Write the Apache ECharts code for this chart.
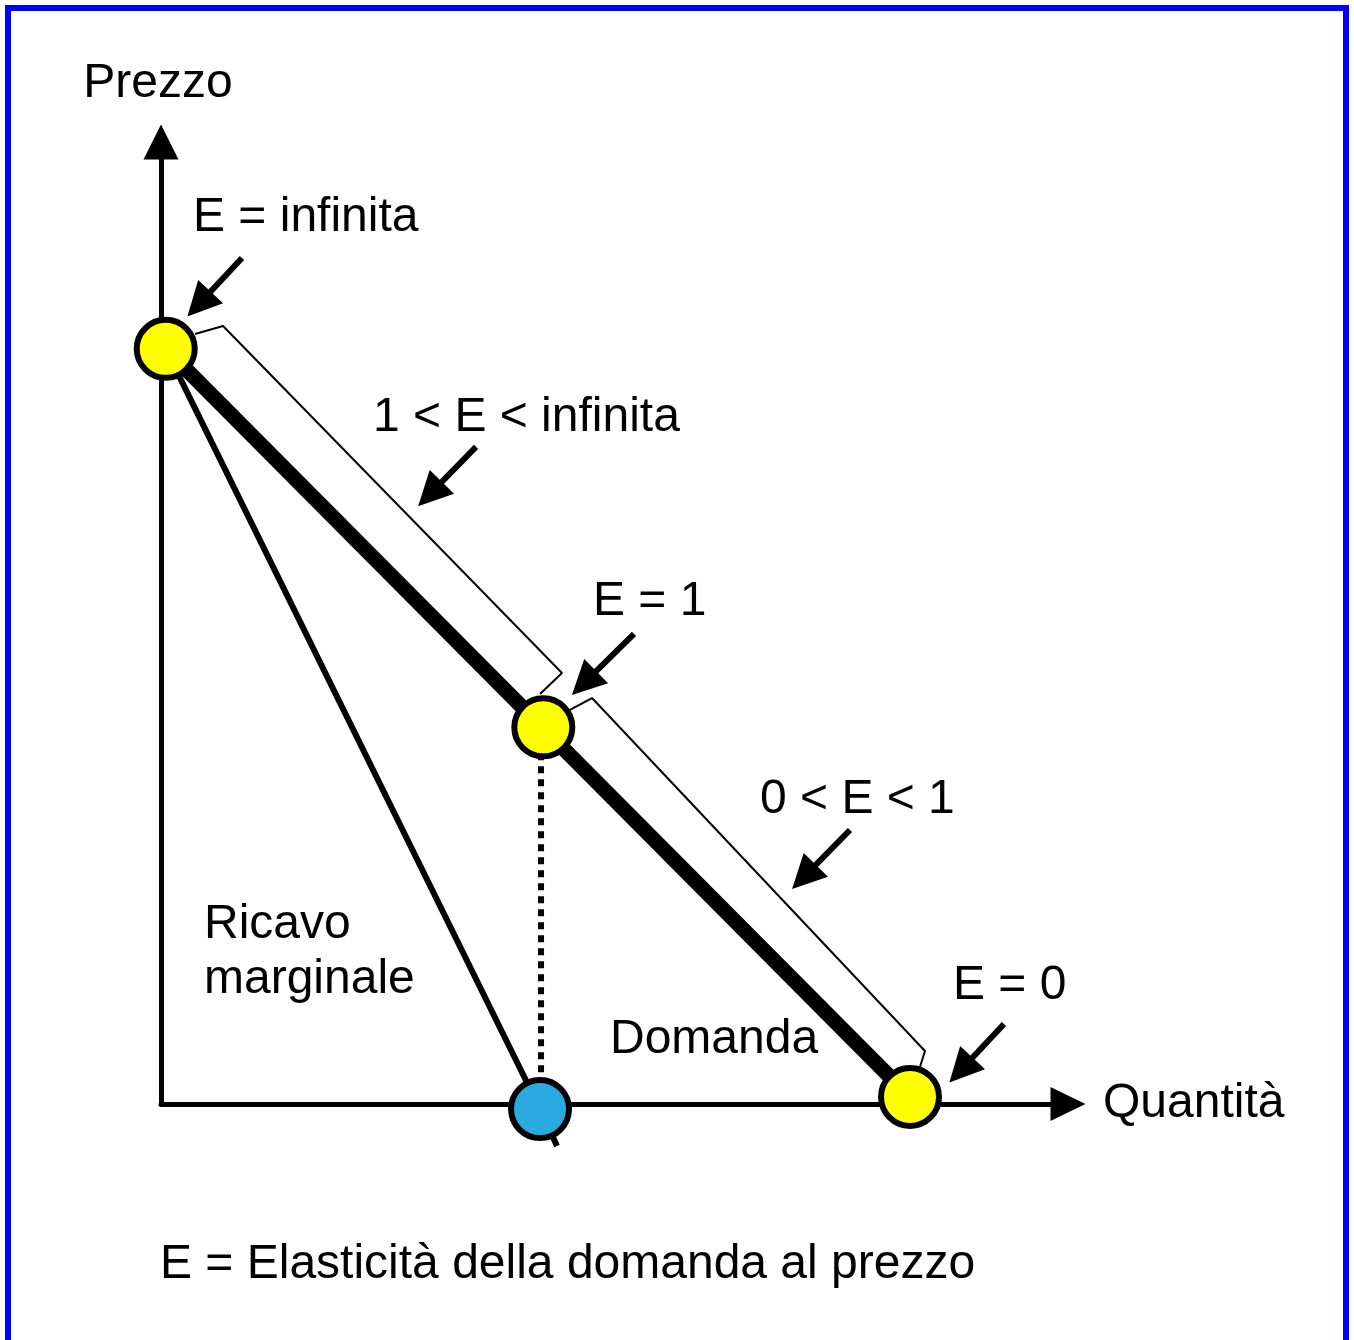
<!DOCTYPE html>
<html>
<head>
<meta charset="utf-8">
<title>Elasticità della domanda</title>
<script src="https://cdn.jsdelivr.net/npm/echarts@6/dist/echarts.min.js"></script>
<style>
  html, body { margin: 0; padding: 0; background: #fff; }
  #chart { width: 1354px; height: 1340px; }
</style>
</head>
<body>
<div id="chart"></div>
<script>
// punti (unità arbitrarie, assi 0-100)
const demandLine = [[0.52, 78.5], [82.58, 0.73]];
const mrLine = [[0.52, 78.5], [41.79, -0.52], [43.66, -4.37]];
const dottedLine = [[41.9, 39.16], [41.9, -0.52]];
const upperBracket = [[3.75, 80.04], [6.84, 80.87], [44.21, 44.8], [41.79, 42.62]];
const lowerBracket = [[45.09, 40.96], [47.52, 42.2], [84.23, 5.51], [83.68, 3.85]];
const arrowStarts = [[8.93, 87.94], [34.73, 68.3], [52.15, 48.86], [75.96, 28.48], [92.94, 8.32]];
const arrowEnds = [[4.19, 83.16], [29.66, 63.41], [46.64, 43.76], [70.89, 23.6], [88.2, 3.53]];
const yellowPoints = [[0.52, 78.5], [42.15, 39.16], [82.58, 0.73]];
const bluePoints = [[41.79, -0.52]];

const FONT = '48px "Liberation Sans", Arial, sans-serif';

// etichette di testo
const labels = [
    { text: 'E = infinita', x: 193, y: 218 },
    { text: '1 < E < infinita', x: 373, y: 418 },
    { text: 'E = 1', x: 593, y: 602 },
    { text: '0 < E < 1', x: 760, y: 800 },
    { text: 'E = 0', x: 953, y: 986 },
    { text: 'Ricavo\nmarginale', x: 204, y: 952 },
    { text: 'Domanda', x: 610, y: 1040 },
    { text: 'E = Elasticità della domanda al prezzo', x: 160, y: 1265 }
];

const chart = echarts.init(document.getElementById('chart'));

function plainLine(data, width, extra) {
    return Object.assign({
        type: 'line',
        data: data,
        symbol: 'none',
        clip: false,
        silent: true,
        lineStyle: { color: '#000', width: width }
    }, extra || {});
}

const option = {
    animation: false,
    backgroundColor: '#fff',
    grid: { left: 161, right: 286, top: 142, bottom: 236 },
    xAxis: {
        type: 'value', min: 0, max: 100,
        name: 'Quantità', nameLocation: 'end', nameGap: 35,
        nameTextStyle: { color: '#000', fontSize: 48, fontFamily: 'Liberation Sans' },
        axisLine: {
            show: true, onZero: false,
            symbol: ['none', 'triangle'], symbolSize: [34, 35],
            lineStyle: { color: '#000', width: 5 }
        },
        axisTick: { show: false }, axisLabel: { show: false }, splitLine: { show: false }
    },
    yAxis: {
        type: 'value', min: 0, max: 100,
        name: 'Prezzo', nameLocation: 'end', nameGap: 34,
        nameTextStyle: { color: '#000', fontSize: 48, fontFamily: 'Liberation Sans', align: 'center', padding: [0, 6, 0, 0] },
        axisLine: {
            show: true, onZero: false,
            symbol: ['none', 'triangle'], symbolSize: [35, 35],
            lineStyle: { color: '#000', width: 5 }
        },
        axisTick: { show: false }, axisLabel: { show: false }, splitLine: { show: false }
    },
    series: [
        plainLine(upperBracket, 2),
        plainLine(lowerBracket, 2),
        plainLine(mrLine, 6),
        plainLine(dottedLine, 6, { lineStyle: { color: '#000', width: 6, type: [7, 6] } }),
        plainLine(demandLine, 15),
        {
            type: 'lines',
            coordinateSystem: 'cartesian2d',
            silent: true,
            symbol: ['none', 'triangle'],
            symbolSize: 34,
            lineStyle: { color: '#000', width: 6, opacity: 1 },
            data: arrowStarts.map((s, i) => ({ coords: [s, arrowEnds[i]] }))
        },
        {
            type: 'scatter',
            data: yellowPoints,
            symbolSize: 58,
            clip: false,
            silent: true,
            z: 5,
            itemStyle: { color: '#ffff00', borderColor: '#000', borderWidth: 6, opacity: 1 }
        },
        {
            type: 'scatter',
            data: bluePoints,
            symbolSize: 58,
            clip: false,
            silent: true,
            z: 5,
            itemStyle: { color: '#29abe2', borderColor: '#000', borderWidth: 6, opacity: 1 }
        }
    ],
    graphic: [
        {
            type: 'rect', silent: true,
            shape: { x: 8, y: 8, width: 1338, height: 1360 },
            style: { fill: 'none', stroke: '#0000ff', lineWidth: 6 }
        }
    ].concat(labels.map(l => ({
        type: 'text', silent: true,
        x: l.x, y: l.y,
        style: {
            text: l.text, font: FONT, fill: '#000',
            align: 'left', verticalAlign: 'middle', lineHeight: 55
        }
    })))
};

chart.setOption(option);
</script>
</body>
</html>
